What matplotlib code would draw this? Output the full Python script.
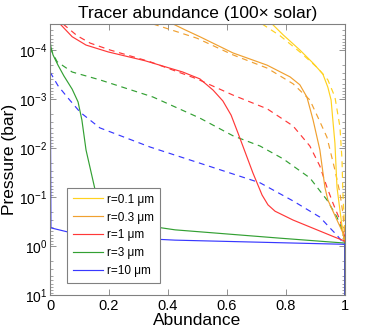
import numpy as np
import matplotlib
matplotlib.use("Agg")
import matplotlib.pyplot as plt

plt.rcParams['font.family'] = ['Liberation Sans', 'DejaVu Sans']
plt.rcParams['mathtext.fontset'] = 'custom'
plt.rcParams['mathtext.rm'] = 'Liberation Sans'
plt.rcParams['mathtext.it'] = 'Liberation Sans:italic'

labels = ['r=0.1 μm', 'r=0.3 μm', 'r=1 μm', 'r=3 μm', 'r=10 μm']
colors = ['#FFD21F', '#F0A030', '#FF3838', '#33A033', '#3838FF']

# solid lines: (abundance, log10 pressure)
yel_s_x = [0.753, 0.790, 0.847, 0.892, 0.925, 0.942, 0.953, 0.959, 0.966, 0.973, 0.983, 0.993, 1.0, 1.0]
yel_s_y = [-4.53, -4.31, -4.00, -3.73, -3.51, -3.24, -2.98, -2.57, -2.10, -1.20, -0.73, -0.27, -0.06, 1.0]
org_s_x = [0.417, 0.458, 0.508, 0.620, 0.736, 0.814, 0.847, 0.871, 0.892, 0.915, 0.932, 0.942, 0.973, 0.993, 1.0, 1.0]
org_s_y = [-4.53, -4.41, -4.27, -3.94, -3.69, -3.45, -3.29, -3.04, -2.57, -1.96, -1.20, -0.94, -0.53, -0.27, -0.06, 1.0]
red_s_x = [0.034, 0.075, 0.122, 0.197, 0.322, 0.45, 0.508, 0.553, 0.586, 0.614, 0.637, 0.688, 0.719, 0.739, 0.763, 0.824, 0.966, 1.0, 1.0]
red_s_y = [-4.53, -4.27, -4.10, -3.96, -3.78, -3.55, -3.41, -3.18, -2.96, -2.67, -2.31, -1.49, -1.04, -0.84, -0.71, -0.53, -0.18, -0.10, 1.0]
grn_s_x = [0.0, 0.0, 0.003, 0.01, 0.027, 0.047, 0.075, 0.095, 0.108, 0.122, 0.153, 0.173, 0.19, 0.356, 0.424, 0.78, 1.0, 1.0]
grn_s_y = [-4.53, -4.20, -4.06, -3.90, -3.69, -3.47, -3.20, -2.94, -2.57, -1.96, -1.14, -0.61, -0.49, -0.39, -0.33, -0.16, -0.06, 1.0]
blu_s_x = [0.0, 0.003, 0.058, 0.356, 0.424, 1.0, 1.0]
blu_s_y = [-4.53, -0.37, -0.29, -0.14, -0.12, -0.035, 1.0]

# dashed lines
yel_d_x = [0.719, 0.780, 0.847, 0.908, 0.942, 0.966, 0.983, 0.990, 0.993, 1.0]
yel_d_y = [-4.53, -4.29, -3.96, -3.63, -3.39, -3.04, -2.43, -1.76, -1.08, -0.22]
org_d_x = [0.349, 0.498, 0.620, 0.736, 0.824, 0.881, 0.908, 0.939, 0.966, 0.983, 0.993, 1.0]
org_d_y = [-4.53, -4.24, -3.90, -3.63, -3.31, -2.98, -2.63, -2.22, -1.55, -1.08, -0.67, -0.12]
red_d_x = [0.044, 0.092, 0.136, 0.203, 0.339, 0.498, 0.620, 0.736, 0.824, 0.881, 0.915, 0.939, 0.959, 0.983, 1.0]
red_d_y = [-4.53, -4.29, -4.14, -4.00, -3.76, -3.41, -3.08, -2.80, -2.45, -2.04, -1.63, -1.20, -0.88, -0.53, -0.18]
grn_d_x = [0.0, 0.024, 0.075, 0.169, 0.349, 0.508, 0.620, 0.712, 0.790, 0.881, 0.939, 0.973, 0.993, 1.0]
grn_d_y = [-4.04, -3.76, -3.55, -3.39, -3.04, -2.61, -2.25, -2.04, -1.78, -1.39, -0.94, -0.59, -0.29, -0.04]
blu_d_x = [0.0, 0.027, 0.058, 0.102, 0.169, 0.339, 0.508, 0.712, 0.824, 0.915, 0.949, 0.973, 1.0]
blu_d_y = [-3.55, -3.27, -3.04, -2.73, -2.41, -2.02, -1.69, -1.29, -0.92, -0.59, -0.37, -0.22, -0.02]

ytick_vals = [1e-4, 1e-3, 1e-2, 1e-1, 1, 10]
ytick_labels = [r'$10^{-4}$', r'$10^{-3}$', r'$10^{-2}$', r'$10^{-1}$', r'$10^{0}$', r'$10^{1}$']
xtick_vals = [0, 0.2, 0.4, 0.6, 0.8, 1.0]
xtick_labels = ['0', '0.2', '0.4', '0.6', '0.8', '1']

solids = [(yel_s_x, yel_s_y), (org_s_x, org_s_y), (red_s_x, red_s_y), (grn_s_x, grn_s_y), (blu_s_x, blu_s_y)]
dashes = [(yel_d_x, yel_d_y), (org_d_x, org_d_y), (red_d_x, red_d_y), (grn_d_x, grn_d_y), (blu_d_x, blu_d_y)]

fig = plt.figure(figsize=(3.82, 3.33), dpi=100)
ax = fig.add_axes([0.131, 0.114, 0.772, 0.814])

for (x, y), c in zip(dashes, colors):
    ax.plot(x, 10 ** np.array(y), color=c, lw=0.85, ls=(0, (5, 4)))
handles = []
for (x, y), c, lab in zip(solids, colors, labels):
    h, = ax.plot(x, 10 ** np.array(y), color=c, lw=0.85, label=lab)
    handles.append(h)

ax.set_yscale('log')
ax.set_ylim(10, 10 ** -4.53)
ax.set_xlim(0, 1)
ax.set_xticks(xtick_vals)
ax.set_xticklabels(xtick_labels, fontsize=10.5)
ax.set_yticks(ytick_vals)
ax.set_yticklabels(ytick_labels, fontsize=10)

gray = '#808080'
for s in ax.spines.values():
    s.set_color(gray)
    s.set_linewidth(0.8)
ax.tick_params(which='both', direction='in', top=True, right=True, colors=gray, labelcolor='black')
ax.tick_params(which='major', length=4, width=0.6)
ax.tick_params(which='minor', length=2, width=0.5)
ax.tick_params(axis='x', pad=3)
ax.tick_params(axis='y', pad=2)

ax.set_title('Tracer abundance (100× solar)', fontsize=12.5, pad=4)
ax.set_xlabel('Abundance', fontsize=12.5, labelpad=0)
ax.set_ylabel('Pressure (bar)', fontsize=12.5)
ax.yaxis.set_label_coords(-0.112, 0.5)

leg = ax.legend(handles=handles, loc='lower left', bbox_to_anchor=(0.057, 0.044), borderaxespad=0,
                fancybox=False, edgecolor=gray, framealpha=1, fontsize=8.5,
                handlelength=2.6, handletextpad=0.3, labelspacing=0.5, borderpad=0.5)
leg.get_frame().set_linewidth(0.8)

fig.savefig('out.png', dpi=100)
